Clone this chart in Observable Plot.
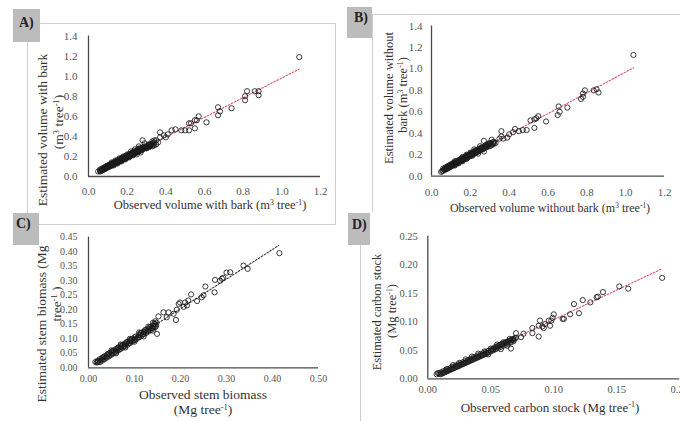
<!DOCTYPE html>
<html>
<head>
<meta charset="utf-8">
<script src="https://cdn.jsdelivr.net/npm/d3@7"></script>
<script src="https://cdn.jsdelivr.net/npm/@observablehq/plot@0.6"></script>
<style>
  body { margin: 0; background: #fff; }
  #page { position: relative; width: 680px; height: 421px; overflow: hidden; background: #fff; font-family: "Liberation Serif", "DejaVu Serif", serif; color: #333; }
  #page svg, #page svg text { font-family: "Liberation Serif", serif !important; }
  .abs { position: absolute; }
  .lab { position: absolute; white-space: nowrap; transform: translate(-50%, -50%); color: #333; line-height: 1; }
  .lab sup { font-size: 0.62em; line-height: 0; vertical-align: 0.55em; }
  .rot { transform: translate(-50%, -50%) rotate(-90deg); }
  .tag { position: absolute; background: #bcbcbc; }
  .tagtxt { position: absolute; font-weight: bold; font-size: 14px; color: #222; }
</style>
</head>
<body>
<div id="page"></div>
<script>
// ---------- data ----------
const xTicksA = [0, 0.2, 0.4, 0.6, 0.8, 1.0, 1.2];
const yTicksA = [0, 0.2, 0.4, 0.6, 0.8, 1.0, 1.2, 1.4];
const pointsA = [
  [0.05,0.05],[0.06,0.05],[0.06,0.07],[0.07,0.06],[0.07,0.08],[0.08,0.07],[0.08,0.09],[0.09,0.08],[0.09,0.10],
  [0.10,0.09],[0.10,0.11],[0.11,0.10],[0.11,0.12],[0.12,0.11],[0.12,0.13],[0.13,0.12],[0.13,0.14],[0.13,0.11],
  [0.14,0.13],[0.14,0.15],[0.15,0.14],[0.15,0.16],[0.15,0.13],[0.16,0.15],[0.16,0.17],[0.17,0.16],[0.17,0.18],
  [0.17,0.15],[0.18,0.17],[0.18,0.19],[0.19,0.18],[0.19,0.20],[0.19,0.17],[0.20,0.19],[0.20,0.21],[0.21,0.20],
  [0.21,0.22],[0.21,0.19],[0.22,0.21],[0.22,0.23],[0.23,0.22],[0.23,0.24],[0.23,0.21],[0.24,0.23],[0.24,0.25],
  [0.25,0.24],[0.25,0.26],[0.25,0.22],[0.26,0.25],[0.26,0.27],[0.27,0.26],[0.27,0.28],[0.27,0.24],[0.28,0.27],
  [0.28,0.29],[0.29,0.28],[0.29,0.30],[0.30,0.28],[0.30,0.30],[0.31,0.29],[0.31,0.31],[0.32,0.30],[0.32,0.32],
  [0.33,0.30],[0.33,0.32],[0.34,0.31],[0.35,0.32],[0.36,0.34],[0.26,0.30],[0.29,0.33],[0.33,0.35],[0.35,0.36],
  [0.06,0.06],[0.065,0.055],[0.07,0.07],[0.075,0.065],[0.08,0.08],[0.085,0.075],[0.085,0.09],[0.09,0.085],
  [0.095,0.09],[0.095,0.105],[0.10,0.10],[0.105,0.095],[0.105,0.11],[0.11,0.115],[0.115,0.105],[0.115,0.12],
  [0.12,0.12],[0.125,0.115],[0.125,0.13],[0.13,0.13],[0.135,0.125],[0.135,0.14],[0.14,0.14],[0.145,0.135],
  [0.145,0.15],[0.15,0.15],[0.155,0.145],[0.155,0.16],[0.16,0.16],[0.165,0.155],[0.165,0.175],[0.17,0.17],
  [0.175,0.165],[0.175,0.185],[0.18,0.18],[0.185,0.175],[0.185,0.195],[0.19,0.19],[0.195,0.185],[0.195,0.205],
  [0.20,0.20],[0.205,0.195],[0.205,0.215],[0.21,0.21],[0.215,0.205],[0.215,0.225],[0.22,0.22],[0.225,0.215],
  [0.225,0.235],[0.23,0.23],[0.235,0.225],[0.235,0.25],[0.24,0.24],[0.245,0.235],[0.25,0.25],[0.255,0.245],
  [0.255,0.27],[0.26,0.26],[0.265,0.255],[0.27,0.27],[0.275,0.265],[0.28,0.28],[0.285,0.29],[0.29,0.29],
  [0.295,0.285],[0.30,0.29],[0.305,0.30],[0.31,0.30],[0.315,0.31],[0.32,0.31],[0.325,0.32],[0.33,0.33],[0.34,0.33],
  [0.12,0.14],[0.16,0.18],[0.20,0.22],[0.22,0.25],[0.24,0.27],[0.26,0.28],[0.18,0.20],[0.14,0.16],
  [0.28,0.36],[0.31,0.32],[0.34,0.34],[0.34,0.36],[0.37,0.39],[0.37,0.44],[0.39,0.41],[0.40,0.39],[0.41,0.42],
  [0.43,0.46],[0.45,0.47],[0.48,0.46],[0.50,0.46],[0.52,0.46],[0.52,0.53],[0.53,0.53],[0.55,0.56],[0.55,0.48],
  [0.56,0.56],[0.57,0.60],[0.61,0.54],[0.67,0.61],[0.68,0.65],[0.67,0.69],[0.74,0.68],[0.81,0.76],[0.81,0.80],
  [0.82,0.85],[0.86,0.85],[0.88,0.85],[0.88,0.81],[1.09,1.19]
];
const trendA = [[0.05,0.05],[1.09,1.07]];

const xTicksB = [0, 0.2, 0.4, 0.6, 0.8, 1.0, 1.2];
const yTicksB = [0, 0.2, 0.4, 0.6, 0.8, 1.0, 1.2, 1.4];
const pointsB = [
  [0.05,0.04],[0.06,0.05],[0.06,0.07],[0.07,0.06],[0.07,0.08],[0.08,0.07],[0.08,0.09],[0.09,0.08],[0.09,0.10],
  [0.10,0.09],[0.10,0.11],[0.11,0.10],[0.11,0.12],[0.12,0.11],[0.12,0.13],[0.12,0.10],[0.13,0.12],[0.13,0.14],
  [0.14,0.13],[0.14,0.15],[0.14,0.12],[0.15,0.14],[0.15,0.16],[0.16,0.15],[0.16,0.17],[0.16,0.14],[0.17,0.16],
  [0.17,0.18],[0.18,0.17],[0.18,0.19],[0.18,0.16],[0.19,0.18],[0.19,0.20],[0.20,0.19],[0.20,0.21],[0.21,0.20],
  [0.21,0.22],[0.21,0.19],[0.22,0.21],[0.22,0.23],[0.23,0.22],[0.23,0.24],[0.24,0.23],[0.24,0.25],[0.24,0.21],
  [0.25,0.24],[0.25,0.26],[0.26,0.25],[0.26,0.27],[0.27,0.26],[0.27,0.23],[0.28,0.27],[0.28,0.29],[0.29,0.28],
  [0.29,0.30],[0.30,0.28],[0.30,0.31],[0.31,0.29],[0.32,0.30],[0.32,0.32],[0.33,0.31],
  [0.055,0.05],[0.065,0.06],[0.07,0.07],[0.075,0.065],[0.08,0.08],[0.085,0.075],[0.085,0.09],[0.09,0.09],
  [0.095,0.085],[0.095,0.10],[0.10,0.10],[0.105,0.095],[0.105,0.11],[0.11,0.11],[0.115,0.105],[0.115,0.12],
  [0.12,0.12],[0.125,0.115],[0.125,0.13],[0.13,0.13],[0.135,0.125],[0.135,0.14],[0.14,0.14],[0.145,0.135],
  [0.145,0.15],[0.15,0.15],[0.155,0.145],[0.155,0.16],[0.16,0.16],[0.165,0.155],[0.165,0.17],[0.17,0.17],
  [0.175,0.165],[0.175,0.18],[0.18,0.18],[0.185,0.175],[0.185,0.19],[0.19,0.19],[0.195,0.185],[0.195,0.20],
  [0.20,0.20],[0.205,0.195],[0.205,0.21],[0.21,0.21],[0.215,0.205],[0.215,0.22],[0.22,0.22],[0.225,0.215],
  [0.225,0.24],[0.23,0.23],[0.235,0.225],[0.24,0.24],[0.245,0.235],[0.25,0.25],[0.255,0.26],[0.26,0.26],
  [0.265,0.25],[0.27,0.27],[0.275,0.28],[0.28,0.28],[0.285,0.27],[0.29,0.29],[0.30,0.30],[0.31,0.30],[0.32,0.31],
  [0.12,0.14],[0.16,0.18],[0.20,0.22],[0.22,0.25],[0.25,0.28],[0.18,0.20],
  [0.27,0.33],[0.29,0.30],[0.31,0.34],[0.32,0.32],[0.35,0.35],[0.36,0.42],[0.36,0.37],[0.37,0.35],[0.39,0.36],
  [0.40,0.39],[0.42,0.41],[0.43,0.44],[0.45,0.42],[0.47,0.43],[0.49,0.43],[0.53,0.45],[0.51,0.52],[0.53,0.53],
  [0.54,0.54],[0.55,0.56],[0.59,0.51],[0.65,0.57],[0.66,0.60],[0.655,0.65],[0.70,0.64],[0.77,0.72],[0.78,0.74],
  [0.78,0.77],[0.79,0.80],[0.835,0.80],[0.85,0.81],[0.86,0.78],[1.04,1.13]
];
const trendB = [[0.05,0.05],[1.04,1.01]];

const xTicksC = [0, 0.1, 0.2, 0.3, 0.4, 0.5];
const yTicksC = [0, 0.05, 0.10, 0.15, 0.20, 0.25, 0.30, 0.35, 0.40, 0.45];
const pointsC = [
  [0.015,0.02],[0.02,0.02],[0.02,0.025],[0.025,0.02],[0.025,0.03],[0.03,0.025],[0.03,0.035],[0.035,0.03],
  [0.035,0.04],[0.04,0.035],[0.04,0.045],[0.045,0.04],[0.045,0.05],[0.05,0.045],[0.05,0.055],[0.055,0.05],
  [0.055,0.06],[0.06,0.055],[0.06,0.065],[0.065,0.06],[0.065,0.07],[0.07,0.065],[0.07,0.075],[0.075,0.07],
  [0.075,0.08],[0.08,0.075],[0.08,0.085],[0.085,0.08],[0.085,0.09],[0.09,0.085],[0.09,0.095],[0.095,0.09],
  [0.095,0.10],[0.10,0.095],[0.10,0.105],[0.105,0.10],[0.11,0.105],[0.11,0.115],[0.115,0.11],[0.115,0.12],
  [0.12,0.115],[0.12,0.125],[0.125,0.12],[0.125,0.13],[0.13,0.125],[0.13,0.135],[0.135,0.13],[0.135,0.14],
  [0.14,0.135],[0.14,0.145],[0.145,0.14],[0.145,0.15],[0.14,0.155],[0.145,0.16],
  [0.018,0.018],[0.022,0.022],[0.028,0.028],[0.032,0.03],[0.033,0.037],[0.038,0.036],[0.042,0.042],[0.043,0.048],
  [0.048,0.046],[0.052,0.052],[0.053,0.058],[0.058,0.056],[0.062,0.062],[0.063,0.068],[0.068,0.066],[0.072,0.072],
  [0.073,0.078],[0.078,0.076],[0.082,0.082],[0.083,0.088],[0.088,0.086],[0.092,0.092],[0.093,0.098],[0.098,0.096],
  [0.102,0.10],[0.103,0.108],[0.108,0.106],[0.112,0.112],[0.113,0.12],[0.118,0.116],[0.122,0.122],[0.123,0.13],
  [0.128,0.127],[0.132,0.132],[0.133,0.14],[0.138,0.137],[0.142,0.142],[0.143,0.152],[0.147,0.145],[0.148,0.155],
  [0.06,0.05],[0.08,0.07],[0.10,0.09],[0.12,0.108],[0.14,0.128],[0.05,0.06],[0.07,0.08],[0.09,0.10],[0.11,0.122],[0.13,0.142],
  [0.149,0.117],[0.152,0.177],[0.163,0.191],[0.17,0.174],[0.174,0.191],[0.185,0.186],[0.19,0.165],[0.192,0.20],
  [0.196,0.22],[0.199,0.225],[0.207,0.21],[0.21,0.225],[0.214,0.215],[0.217,0.232],[0.223,0.253],[0.236,0.23],
  [0.246,0.243],[0.25,0.25],[0.254,0.28],[0.274,0.26],[0.275,0.303],[0.286,0.30],[0.29,0.307],[0.293,0.31],
  [0.30,0.328],[0.308,0.329],[0.337,0.352],[0.346,0.341],[0.415,0.395]
];
const trendC = [[0.015,0.015],[0.413,0.421]];

const xTicksD = [0, 0.05, 0.10, 0.15, 0.20];
const yTicksD = [0, 0.05, 0.10, 0.15, 0.20, 0.25];
const pointsD = [
  [0.007,0.008],[0.009,0.009],[0.010,0.011],[0.011,0.009],[0.012,0.013],[0.013,0.011],[0.014,0.015],[0.015,0.013],
  [0.016,0.017],[0.017,0.015],[0.018,0.019],[0.019,0.017],[0.020,0.021],[0.021,0.019],[0.022,0.023],[0.023,0.021],
  [0.024,0.025],[0.025,0.023],[0.026,0.027],[0.027,0.025],[0.028,0.029],[0.029,0.027],[0.030,0.031],[0.031,0.029],
  [0.032,0.033],[0.033,0.031],[0.034,0.035],[0.035,0.033],[0.036,0.037],[0.037,0.035],[0.038,0.039],[0.039,0.037],
  [0.040,0.041],[0.041,0.039],[0.042,0.043],[0.043,0.041],[0.044,0.045],[0.045,0.043],[0.046,0.047],[0.047,0.045],
  [0.048,0.049],[0.050,0.048],[0.051,0.052],[0.052,0.050],[0.053,0.055],[0.054,0.052],[0.055,0.057],[0.056,0.054],
  [0.057,0.059],[0.058,0.056],[0.059,0.061],[0.060,0.058],[0.061,0.063],[0.062,0.060],[0.063,0.065],[0.064,0.062],
  [0.065,0.067],[0.066,0.064],[0.067,0.069],[0.068,0.066],[0.069,0.071],
  [0.008,0.010],[0.010,0.008],[0.012,0.010],[0.014,0.012],[0.016,0.014],[0.018,0.016],[0.020,0.018],[0.022,0.020],
  [0.024,0.022],[0.026,0.024],[0.028,0.026],[0.030,0.028],[0.032,0.030],[0.034,0.032],[0.036,0.034],[0.038,0.036],
  [0.040,0.038],[0.042,0.040],[0.044,0.042],[0.046,0.044],[0.048,0.046],[0.050,0.050],[0.052,0.052],[0.054,0.055],
  [0.056,0.057],[0.058,0.060],[0.060,0.062],[0.062,0.064],[0.064,0.066],[0.066,0.068],[0.068,0.068],
  [0.015,0.017],[0.020,0.024],[0.025,0.028],[0.030,0.034],[0.035,0.039],[0.040,0.044],[0.045,0.048],[0.050,0.053],
  [0.055,0.060],[0.060,0.064],[0.065,0.070],[0.070,0.072],[0.063,0.058],[0.058,0.052],[0.048,0.043],
  [0.066,0.053],[0.068,0.070],[0.070,0.080],[0.074,0.073],[0.076,0.079],[0.083,0.080],[0.083,0.089],[0.088,0.074],
  [0.088,0.093],[0.089,0.102],[0.091,0.092],[0.092,0.089],[0.093,0.096],[0.096,0.102],[0.097,0.093],[0.098,0.102],
  [0.099,0.107],[0.100,0.113],[0.107,0.105],[0.108,0.105],[0.113,0.113],[0.116,0.131],[0.120,0.115],[0.123,0.138],
  [0.129,0.134],[0.134,0.143],[0.135,0.144],[0.139,0.152],[0.152,0.162],[0.159,0.158],[0.186,0.177]
];
const trendD = [[0.008,0.008],[0.186,0.193]];

// ---------- helpers ----------
const page = document.getElementById("page");
function el(tag, cls, css, html) {
  const e = document.createElement(tag);
  if (cls) e.className = cls;
  Object.assign(e.style, css);
  if (html != null) e.innerHTML = html;
  page.appendChild(e);
  return e;
}
function box(l, t, w, h, sides) {
  const css = {left: l + "px", top: t + "px", width: w + "px", height: h + "px", boxSizing: "border-box"};
  for (const s of sides) css["border" + s] = "1px solid #cfcfcf";
  el("div", "abs", css);
}
function tag(l, t, w, h, txt, tl, tt) {
  el("div", "tag", {left: l + "px", top: t + "px", width: w + "px", height: h + "px"});
  el("div", "tagtxt", {left: tl + "px", top: tt + "px"}, txt);
}
function label(html, cx, cy, size, rotated) {
  el("div", "lab" + (rotated ? " rot" : ""), {left: cx + "px", top: cy + "px", fontSize: size + "px"}, html);
}
function panel(o) {
  const fmt = d3.format(o.fmt);
  const chart = Plot.plot({
    width: o.width, height: o.height,
    marginLeft: o.mL, marginRight: o.mR, marginTop: o.mT, marginBottom: o.mB,
    style: {background: "transparent", fontFamily: "Liberation Serif", fontSize: o.fs + "px", color: "#555", overflow: "visible"},
    x: {domain: o.xDomain},
    y: {domain: o.yDomain},
    marks: [
      Plot.axisX(o.xTicks, {tickSize: 0, tickPadding: o.xPad, tickFormat: fmt, label: null, fill: "#555"}),
      Plot.axisY(o.yTicks, {tickSize: 0, tickPadding: o.yPad, tickFormat: fmt, label: null, fill: "#555"}),
      Plot.ruleY([o.yDomain[0]], {stroke: "#4a4a4a", strokeWidth: 1.3}),
      Plot.ruleX([o.xDomain[0]], {stroke: "#4a4a4a", strokeWidth: 1.3}),
      Plot.line(o.trend, {x: d => d[0], y: d => d[1], stroke: o.trendColor, strokeWidth: 1.1, strokeDasharray: "1.6,1.8"}),
      Plot.dot(o.pts, {x: d => d[0], y: d => d[1], r: 2.6, stroke: "#1a1a1a", strokeWidth: 0.85, fill: "none"})
    ]
  });
  const holder = el("div", "abs", {left: o.left + "px", top: o.top + "px", width: o.width + "px", height: o.height + "px"});
  holder.appendChild(chart);
}

// ---------- frames ----------
box(27, 23, 309, 202, ["Top", "Left", "Right", "Bottom"]);
box(372, 14, 330, 198, ["Top", "Left"]);
box(360, 228, 340, 210, ["Left"]);

// ---------- panels ----------
panel({pts: pointsA, trend: trendA, trendColor: "#d8506a", xDomain: [0, 1.2], yDomain: [0, 1.4],
  xTicks: xTicksA, yTicks: yTicksA, fmt: ".1f", left: 0, top: 0, width: 340, height: 220,
  mL: 88, mR: 20, mT: 35.5, mB: 44, fs: 11, xPad: 11, yPad: 11});
panel({pts: pointsB, trend: trendB, trendColor: "#d8506a", xDomain: [0, 1.2], yDomain: [0, 1.4],
  xTicks: xTicksB, yTicks: yTicksB, fmt: ".1f", left: 340, top: 0, width: 340, height: 215,
  mL: 91, mR: 16, mT: 25.5, mB: 39.3, fs: 11, xPad: 12, yPad: 9});
panel({pts: pointsC, trend: trendC, trendColor: "#333", xDomain: [0, 0.5], yDomain: [0, 0.45],
  xTicks: xTicksC, yTicks: yTicksC, fmt: ".2f", left: 0, top: 225, width: 340, height: 196,
  mL: 88, mR: 22, mT: 11.7, mB: 53.7, fs: 10, xPad: 7, yPad: 11});
panel({pts: pointsD, trend: trendD, trendColor: "#d8506a", xDomain: [0, 0.2], yDomain: [0, 0.25],
  xTicks: xTicksD, yTicks: yTicksD, fmt: ".2f", left: 340, top: 225, width: 345, height: 196,
  mL: 87.3, mR: 5.7, mT: 10.7, mB: 42.7, fs: 10.5, xPad: 7, yPad: 10});

// ---------- axis titles ----------
label("Estimated volume with bark", 43, 130, 13.5, true);
label("(m<sup>3</sup> tree<sup>-1</sup>)", 59, 122, 13.5, true);
label("Observed volume with bark (m<sup>3</sup> tree<sup>-1</sup>)", 210, 205, 12.5, false);

label("Estimated volume without", 389, 98, 12.5, true);
label("bark (m<sup>3</sup> tree<sup>-1</sup>)", 403, 95, 12.5, true);
label("Observed volume without bark (m<sup>3</sup> tree<sup>-1</sup>)", 550, 208, 12, false);

label("Estimated stem biomass (Mg", 42, 324, 13.5, true);
label("tree<sup>-1</sup> )", 57, 304, 13.5, true);
label("Observed stem biomass", 203, 395, 13.5, false);
label("(Mg tree<sup>-1</sup>)", 203, 410, 13.5, false);

label("Estimated carbon stock", 377, 312, 12.5, true);
label("(Mg tree<sup>-1</sup>)", 392, 311, 12.5, true);
label("Observed carbon stock (Mg tree<sup>-1</sup>)", 550, 407, 13, false);

// ---------- panel tags ----------
tag(13, 9, 27, 33, "A)", 19, 15);
tag(347, 7, 25, 31, "B)", 354, 10);
tag(13, 213, 26, 32, "C)", 16, 216);
tag(348, 213, 22, 32, "D)", 352, 217);
</script>
</body>
</html>
